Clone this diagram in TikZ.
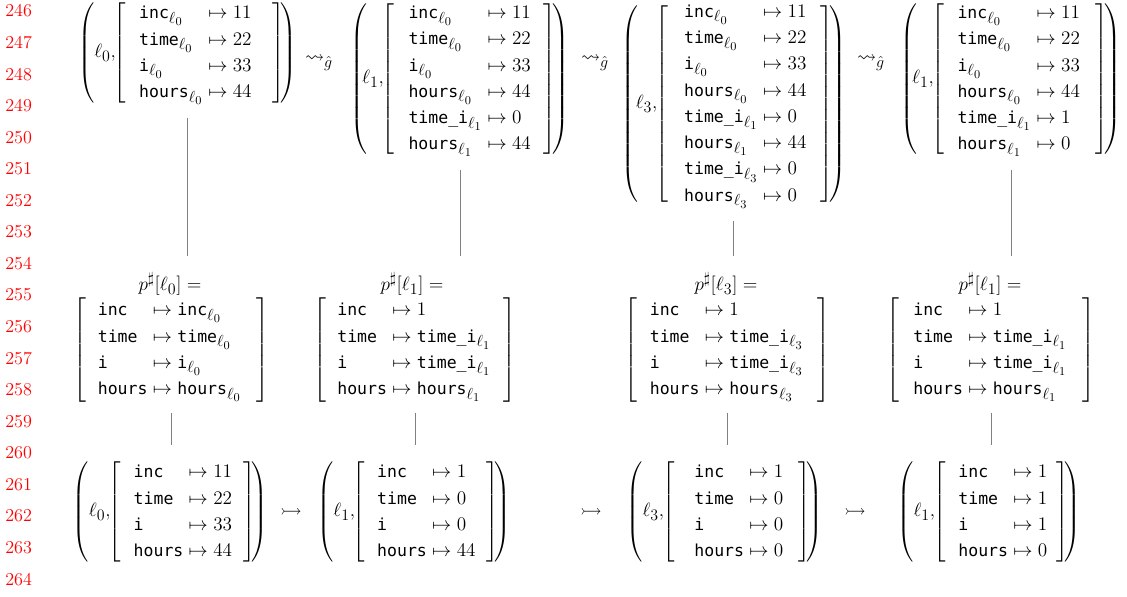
\documentclass[tikz,border=0pt]{standalone}
\usepackage{amsmath,amssymb,graphicx}
\usepackage{fontspec}
\setmonofont{DejaVu Sans Mono}[Scale=0.86]
\usetikzlibrary{calc}
\DeclareMathSizes{14.4}{14.4}{12}{9}
\newlength\px \setlength\px{0.75pt}
\newcommand\tv[1]{\texttt{#1}}
\newcommand\mto{{}\mapsto}
% delimiter #1 scaled to total height #2
\newcommand\dl[2]{\vcenter{\hbox{\resizebox*{!}{#2}{$\nulldelimiterspace=0pt\left#1\vcenter{\hbox{\rule{0pt}{#2}}}\right.$}}}}
% #1 height, #2 left pad, #3 right pad, #4 rows
\newcommand\kvmat[4]{\dl{[}{#1}\begin{array}{@{\hspace{#2\px}}l@{}l@{\hspace{#3\px}}}#4\end{array}\dl{]}{#1}}
% [kern] #2 height, #3 loc, #4 lpad, #5 rpad, #6 rows
\newcommand\pstate[6][0]{\dl{(}{#2}\mkern#1mu#3{,}\mkern-2mu\kvmat{#2}{#4}{#5}{#6}\mkern-4mu\dl{)}{#2}}
\begin{document}
\begin{tikzpicture}[x=0.75pt,y=-0.75pt,
  every node/.style={inner sep=0pt,outer sep=0pt},
  mnode/.style={font=\fontsize{14.4}{19.7}\selectfont},
  conn/.style={draw=gray,line width=0.6pt},
  lineno/.style={text=red,anchor=east,font=\fontsize{13.6}{16}\selectfont}]
\useasboundingbox (0,0) rectangle (1127,596);
% line numbers
\foreach \i in {0,...,18}{
  \pgfmathtruncatemacro\n{246+\i}
  \node[lineno] (ln\i) at (32,{11+31.56*\i}) {\n};
}
% top row
\node[mnode] (s1) at (187.5,53) {$\pstate{75pt}{\ell_0}{13}{21}{%
  \tv{inc}_{\ell_0} & \mto 11\\ \tv{time}_{\ell_0} & \mto 22\\ \tv{i}_{\ell_0} & \mto 33\\ \tv{hours}_{\ell_0} & \mto 44}$};
\node[mnode] (s2) at (460,79) {$\pstate[-5]{114pt}{\ell_1}{14}{13}{%
  \tv{inc}_{\ell_0} & \mto 11\\ \tv{time}_{\ell_0} & \mto 22\\ \tv{i}_{\ell_0} & \mto 33\\ \tv{hours}_{\ell_0} & \mto 44\\
  \tv{time\_i}_{\ell_1} & \mto 0\\ \tv{hours}_{\ell_1} & \mto 44}$};
\node[mnode] (s3) at (733.5,104) {$\pstate[-2]{151.5pt}{\ell_3}{16}{14}{%
  \tv{inc}_{\ell_0} & \mto 11\\ \tv{time}_{\ell_0} & \mto 22\\ \tv{i}_{\ell_0} & \mto 33\\ \tv{hours}_{\ell_0} & \mto 44\\
  \tv{time\_i}_{\ell_1} & \mto 0\\ \tv{hours}_{\ell_1} & \mto 44\\
  \tv{time\_i}_{\ell_3} & \mto 0\\ \tv{hours}_{\ell_3} & \mto 0}$};
\node[mnode] (s4) at (1011,79) {$\pstate[-5]{114pt}{\ell_1}{13}{16}{%
  \tv{inc}_{\ell_0} & \mto 11\\ \tv{time}_{\ell_0} & \mto 22\\ \tv{i}_{\ell_0} & \mto 33\\ \tv{hours}_{\ell_0} & \mto 44\\
  \tv{time\_i}_{\ell_1} & \mto 1\\ \tv{hours}_{\ell_1} & \mto 0}$};
\node[mnode] (a1) at (319,63) {$\rightsquigarrow_{\hat g}$};
\node[mnode] (a2) at (595,63) {$\rightsquigarrow_{\hat g}$};
\node[mnode] (a3) at (871,63) {$\rightsquigarrow_{\hat g}$};
% middle row
\node[mnode] (m1t) at (170,284) {$p^\sharp[\ell_0] =$};
\node[mnode] (m2t) at (412,284) {$p^\sharp[\ell_1] =$};
\node[mnode] (m3t) at (726,284) {$p^\sharp[\ell_3] =$};
\node[mnode] (m4t) at (990,284) {$p^\sharp[\ell_1] =$};
\node[mnode] (m1) at (171,350) {$\kvmat{78pt}{12}{15}{%
  \tv{inc} & \mto \tv{inc}_{\ell_0}\\ \tv{time} & \mto \tv{time}_{\ell_0}\\ \tv{i} & \mto \tv{i}_{\ell_0}\\ \tv{hours} & \mto \tv{hours}_{\ell_0}}$};
\node[mnode] (m2) at (415,350) {$\kvmat{78pt}{11}{13}{%
  \tv{inc} & \mto 1\\ \tv{time} & \mto \tv{time\_i}_{\ell_1}\\ \tv{i} & \mto \tv{time\_i}_{\ell_1}\\ \tv{hours} & \mto \tv{hours}_{\ell_1}}$};
\node[mnode] (m3) at (727,350) {$\kvmat{78pt}{13}{14}{%
  \tv{inc} & \mto 1\\ \tv{time} & \mto \tv{time\_i}_{\ell_3}\\ \tv{i} & \mto \tv{time\_i}_{\ell_3}\\ \tv{hours} & \mto \tv{hours}_{\ell_3}}$};
\node[mnode] (m4) at (991,350) {$\kvmat{78pt}{14}{16}{%
  \tv{inc} & \mto 1\\ \tv{time} & \mto \tv{time\_i}_{\ell_1}\\ \tv{i} & \mto \tv{time\_i}_{\ell_1}\\ \tv{hours} & \mto \tv{hours}_{\ell_1}}$};
% bottom row
\node[mnode] (b1) at (170,512) {$\pstate{75pt}{\ell_0}{13}{11}{%
  \tv{inc} & \mto 11\\ \tv{time} & \mto 22\\ \tv{i} & \mto 33\\ \tv{hours} & \mto 44}$};
\node[mnode] (b2) at (414,512) {$\pstate{75pt}{\ell_1}{12}{11}{%
  \tv{inc} & \mto 1\\ \tv{time} & \mto 0\\ \tv{i} & \mto 0\\ \tv{hours} & \mto 44}$};
\node[mnode] (b3) at (724.5,512) {$\pstate{75pt}{\ell_3}{20}{15}{%
  \tv{inc} & \mto 1\\ \tv{time} & \mto 0\\ \tv{i} & \mto 0\\ \tv{hours} & \mto 0}$};
\node[mnode] (b4) at (989,512) {$\pstate{75pt}{\ell_1}{13}{9}{%
  \tv{inc} & \mto 1\\ \tv{time} & \mto 1\\ \tv{i} & \mto 1\\ \tv{hours} & \mto 0}$};
\node[mnode] (r1) at (291,512) {$\rightarrowtail$};
\node[mnode] (r2) at (591,512) {$\rightarrowtail$};
\node[mnode] (r3) at (855,512) {$\rightarrowtail$};
% connectors
\foreach \s/\m in {s1/m1t,s2/m2t,s3/m3t,s4/m4t}{
  \draw[conn] ($(\s.south)+(0,12)$) -- ($(\s.south |- \m.north)+(0,-17)$);
}
\foreach \m/\b in {m1/b1,m2/b2,m3/b3,m4/b4}{
  \draw[conn] ($(\m.south)+(0,10)$) -- ($(\m.south |- \b.north)+(0,-14)$);
}
\end{tikzpicture}
\end{document}
